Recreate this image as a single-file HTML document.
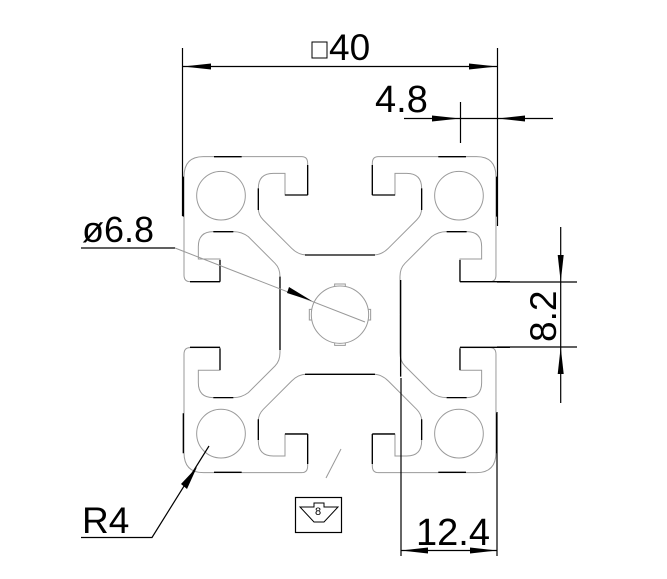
<!DOCTYPE html>
<html><head><meta charset="utf-8"><style>
html,body{margin:0;padding:0;background:#fff;width:667px;height:579px;overflow:hidden}
svg text{font-family:"Liberation Sans",sans-serif;fill:#000}
</style></head><body>
<svg width="667" height="579" viewBox="0 0 667 579" xmlns="http://www.w3.org/2000/svg">
<defs>
<path id="q" d="M330,524 L330,410 Q330,385 315,370 L235,290 Q215,275 190,275 L130,275 Q85,275 85,320 L85,357 L150,357 L150,425 L60,425 Q42,425 42,405 L42,110 Q42,50 100,50 L395,50 Q413,50 413,70 L413,165 L345,165 L345,100 L310,100 Q265,100 265,145 L265,205 Q265,225 280,240 L365,325 Q385,345 410,345 L510,345" fill="none"/>
<g id="qq">
<use href="#q"/>
<circle cx="153" cy="167" r="73" fill="none"/>
</g>
</defs>
<g transform="translate(170,140) scale(0.3333)" stroke="#9a9a9a" stroke-width="3">
<use href="#qq"/>
<use href="#qq" transform="translate(1020,0) scale(-1,1)"/>
<use href="#qq" transform="translate(0,1048) scale(1,-1)"/>
<use href="#qq" transform="translate(1020,1048) scale(-1,-1)"/>
<circle cx="510" cy="524" r="86" fill="none"/>
<path d="M494,440v-8h32v8 M494,608v8h32v-8 M426,508h-8v32h8 M594,508h8v32h-8" fill="none"/>
<g stroke="#000" stroke-width="4">
<path d="M132,50H215 M805,50H888 M132,997H215 M805,997H888 M413,75V165 M607,75V165 M413,882V972 M607,882V972 M345,165H413 M607,165H675 M345,882H413 M607,882H675 M40,230V110 M980,230V110 M40,820V940 M980,820V940 M330,410V630 M692,420V710 M405,345H615 M405,703H615 M150,360V425 M870,360V425 M150,625V690 M870,625V690 M130,275H190 M830,275H890 M130,773H190 M830,773H890 M60,425H150 M870,425H1020 M60,622H150 M870,622H1020 M265,145V210 M755,145V210 M265,838V900 M755,838V900"/>
</g>
</g>
<g stroke="#000" stroke-width="1.2" fill="none">
<path d="M182.5,48V216 M497.5,48V226 M182.5,66.5H497.5"/>
<path d="M460.5,102V143 M404,118.5H553"/>
<path d="M497,282H577 M497,347H577 M560.7,227V403"/>
<path d="M401,378V556 M497,412V556 M401,550.5H497"/>
<path d="M81,248H175 M81,537.5H152 L209,446"/>
<rect x="295.5" y="497.5" width="46" height="35"/>
</g>
<path d="M175,248 L365,322 M341,449 L326,478" stroke="#999" stroke-width="1" fill="none"/>
<g fill="#000">
<path d="M183,66.5 L211,63.5 L211,69.5Z"/>
<path d="M497,66.5 L469,63.5 L469,69.5Z"/>
<path d="M460,118.5 L432,115.5 L432,121.5Z"/>
<path d="M498,118.5 L525,115.5 L525,121.5Z"/>
<path d="M560.7,282 L557.7,255 L563.7,255Z"/>
<path d="M560.7,347 L557.7,374 L563.7,374Z"/>
<path d="M401,550.5 L428,547.5 L428,553.5Z"/>
<path d="M497,550.5 L470,547.5 L470,553.5Z"/>
<path d="M312,301 L289,287 L287,293Z"/>
<path d="M197,467 L181,484 L187,489Z"/>
</g>
<path d="M300,507h14v-4h10v4h14 l-14,15h-10z" fill="none" stroke="#000" stroke-width="1"/>
<text x="315" y="515" font-size="11">8</text>
<rect x="312" y="42" width="15" height="16" fill="none" stroke="#000" stroke-width="1"/>
<text x="329" y="60" font-size="37">40</text>
<text x="375" y="112" font-size="38">4.8</text>
<text x="82" y="242" font-size="36">ø6.8</text>
<text x="82" y="533" font-size="37">R4</text>
<text x="416" y="545" font-size="38">12.4</text>
<text transform="translate(556,342) rotate(-90)" font-size="37">8.2</text>
</svg>
</body></html>
